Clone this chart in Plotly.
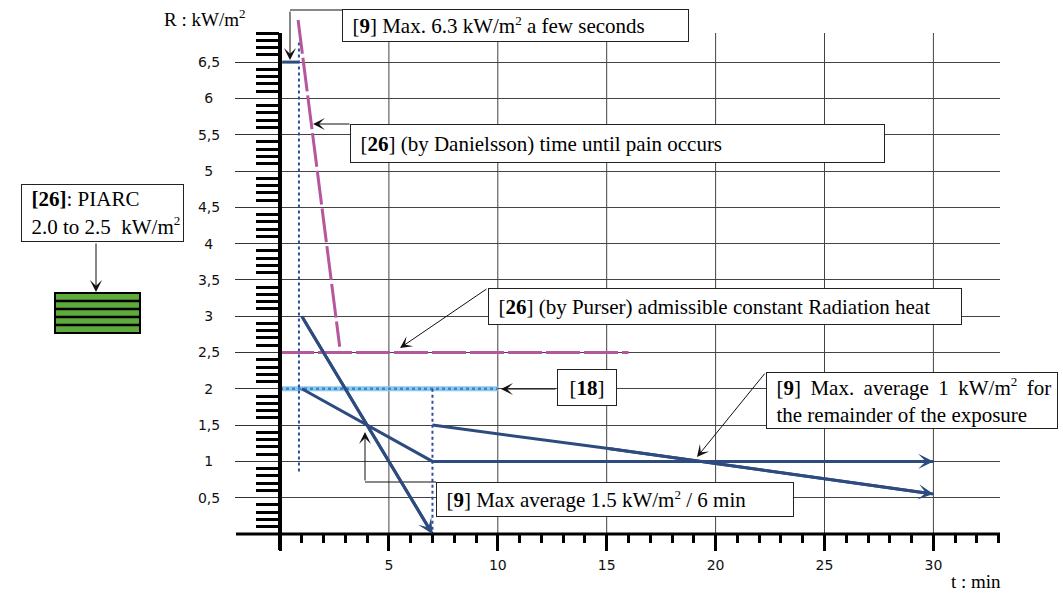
import plotly.graph_objects as go

# ---------------- data ----------------
pain_t = [0.83, 2.74]          # [26] Danielsson, time until pain occurs
pain_R = [7.08, 2.58]
purser_t = [0, 16]             # [26] Purser admissible constant radiation heat
purser_R = [2.5, 2.5]
max63_t = [0.1, 0.85]          # [9] max 6.3 kW/m2 a few seconds
max63_R = [6.5, 6.5]
ref18_t = [0, 10]              # [18]
ref18_R = [2, 2]
lineA_t = [1, 7]               # [9] steep line
lineA_R = [3, 0]
lineB_t = [1, 7, 30]           # [9] 1.5 kW/m2 / 6 min then 1 kW/m2
lineB_R = [2, 1, 1]
lineC_t = [7, 15, 30]          # [9] remainder of exposure
lineC_R = [1.5, 1.18, 0.55]
guide1_t = [0.87, 0.87]        # dotted guide near t = 1 min
guide1_R = [0.86, 6.77]
guide7_t = [7, 7]              # dotted guide at t = 7 min
guide7_R = [2, 0]

y_ticks = [0.5, 1, 1.5, 2, 2.5, 3, 3.5, 4, 4.5, 5, 5.5, 6, 6.5]
y_labels = ["0,5", "1\u2002", "1,5", "2\u2002", "2,5", "3\u2002", "3,5", "4\u2002",
            "4,5", "5\u2002", "5,5", "6\u2002", "6,5"]
x_ticks = [0, 5, 10, 15, 20, 25, 30]
x_labels = ["", "5", "10", "15", "20", "25", "30"]
y_minor = [i / 10 for i in range(1, 70) if i % 5 != 0]
x_minor = [i for i in range(1, 34) if i % 5 != 0]

# ---------------- layout geometry (pixels) ----------------
W, H = 1063, 593
PL, PR, PT, PB = 280, 1000, 12, 534
XMAX = (PR - PL) / 21.78
YMAX = (PB - PT) / 72.6


def fx(px):
    return (px - PL) / (PR - PL)


def fy(py):
    return (PB - py) / (PB - PT)


DARK = "#2D4B7F"
PINK = "#B5579C"
DOT = "#2F4F9A"
SERIF = "Liberation Serif"
SANS = "DejaVu Sans"
SUP2 = "<sup><span style='font-size:13px'>2</span></sup>"

fig = go.Figure()


def line(x, y, color, width, dash=None):
    fig.add_trace(go.Scatter(x=x, y=y, mode="lines",
                             line=dict(color=color, width=width, dash=dash),
                             hoverinfo="skip", showlegend=False))


line(ref18_t, ref18_R, "#8CC8EE", 5)
line(ref18_t, ref18_R, "#3A88C8", 2.5, "dot")
line(guide1_t, guide1_R, DOT, 2, "dot")
line(guide7_t, guide7_R, DOT, 2, "dot")
line(pain_t, pain_R, PINK, 3, "34px,4px")
line(purser_t, purser_R, PINK, 3, "34px,4px")
line(max63_t, max63_R, DARK, 3)
line(lineA_t, lineA_R, DARK, 3)
line(lineB_t, lineB_R, DARK, 3)
line(lineC_t, lineC_R, DARK, 3)

annotations = []
shapes = []

# arrow heads at the ends of the blue lines
for tx, ry in [(lineA_t, lineA_R), (lineB_t, lineB_R), (lineC_t, lineC_R)]:
    annotations.append(dict(x=tx[-1], y=ry[-1], xref="x", yref="y",
                            ax=tx[-2], ay=ry[-2], axref="x", ayref="y",
                            text="", showarrow=True, arrowhead=3, arrowsize=0.85,
                            arrowwidth=3, arrowcolor=DARK, standoff=0))

# vertical grid lines
for xv in x_ticks[1:]:
    shapes.append(dict(type="line", xref="x", yref="y", x0=xv, x1=xv, y0=0,
                       y1=(PB - 33) / 72.6, line=dict(color="#444", width=1),
                       layer="below"))

# axis lines
shapes.append(dict(type="line", xref="paper", yref="paper", x0=0, x1=0,
                   y0=fy(550), y1=fy(33), line=dict(color="black", width=4)))
shapes.append(dict(type="line", xref="paper", yref="paper", x0=fx(236), x1=1,
                   y0=0, y1=0, line=dict(color="black", width=3)))


def seg(x0, y0, x1, y1):
    shapes.append(dict(type="line", xref="paper", yref="paper", x0=fx(x0),
                       x1=fx(x1), y0=fy(y0), y1=fy(y1),
                       line=dict(color="#111", width=1)))


def arrow(tipx, tipy, tailx, taily):
    annotations.append(dict(x=fx(tipx), y=fy(tipy), xref="paper", yref="paper",
                            ax=tailx - tipx, ay=taily - tipy, text="",
                            showarrow=True, arrowhead=3, arrowsize=2.0,
                            arrowwidth=1, arrowcolor="#111", standoff=0))


def box(x0, y0, x1, y1, text, align="left"):
    annotations.append(dict(x=fx(x0), y=fy(y0), xref="paper", yref="paper",
                            xanchor="left", yanchor="top", width=x1 - x0 - 2,
                            height=y1 - y0 - 2, text=text, showarrow=False,
                            align=align, valign="middle", bgcolor="white",
                            bordercolor="#222", borderwidth=1, borderpad=0,
                            font=dict(family=SERIF, size=21, color="black")))


P = "\u00a0\u2009"
SP = " \u2009"

# connectors
seg(290, 10, 342, 10)
arrow(290, 60, 290, 10)
arrow(313, 124, 351, 124)
arrow(400, 348, 488, 288)
arrow(501, 389, 557, 389)
arrow(697, 457, 766, 372)
seg(365, 482, 436, 482)
arrow(365, 432, 365, 482)
arrow(96, 292, 96, 242)

# boxes
box(342, 9, 689, 42, P + "[<b>9</b>] Max. 6.3 kW/m" + SUP2 + " a few seconds")
box(350, 124, 885, 163, P + "[<b>26</b>] (by Danielsson) time until pain occurs")
box(488, 288, 962, 325, P + "[<b>26</b>] (by Purser) admissible constant Radiation heat")
box(557, 369, 617, 406, "[<b>18</b>]", align="center")
box(766, 372, 1058, 429,
    P + "[<b>9</b>]" + SP + "Max." + SP + "average" + SP + "1" + SP + "kW/m" + SUP2
    + SP + "for<br>" + P + "the remainder of the exposure")
box(436, 482, 794, 517, P + "[<b>9</b>] Max average 1.5 kW/m" + SUP2 + " / 6 min")
box(21, 184, 184, 242, P + "<b>[26]</b>: PIARC<br>" + P + "2.0 to 2.5  kW/m" + SUP2)

# PIARC hatched legend swatch
shapes.append(dict(type="rect", xref="paper", yref="paper", x0=fx(55), x1=fx(140),
                   y0=fy(333), y1=fy(293), fillcolor="#5FAA3C",
                   line=dict(color="black", width=2)))
for yy in [301, 309, 317, 325]:
    shapes.append(dict(type="line", xref="paper", yref="paper", x0=fx(55), x1=fx(140),
                       y0=fy(yy), y1=fy(yy), line=dict(color="black", width=2.5)))

# axis titles
annotations.append(dict(x=fx(247), y=fy(18), xref="paper", yref="paper",
                        xanchor="right", yanchor="middle", showarrow=False,
                        text="R : kW/m" + SUP2,
                        font=dict(family=SERIF, size=19, color="black")))
annotations.append(dict(x=fx(976), y=fy(581), xref="paper", yref="paper",
                        xanchor="center", yanchor="middle", showarrow=False,
                        text="t : min",
                        font=dict(family=SERIF, size=19, color="black")))

fig.update_layout(
    width=W, height=H,
    margin=dict(l=PL, r=W - PR, t=PT, b=H - PB, pad=0),
    paper_bgcolor="white", plot_bgcolor="white",
    showlegend=False,
    annotations=annotations, shapes=shapes,
    xaxis=dict(range=[0, XMAX], tickmode="array", tickvals=x_ticks, ticktext=x_labels,
               ticks="outside", ticklen=16, tickwidth=3, tickcolor="black",
               showgrid=False, zeroline=False, showline=False,
               tickfont=dict(family=SANS, size=14, color="#111"),
               ticklabelstandoff=2,
               minor=dict(tickmode="array", tickvals=x_minor, ticks="outside",
                          ticklen=8, tickwidth=3, tickcolor="black", showgrid=False)),
    yaxis=dict(range=[0, YMAX], tickmode="array", tickvals=y_ticks, ticktext=y_labels,
               ticks="outside", ticklen=44, tickwidth=1, tickcolor="#333",
               showgrid=True, gridcolor="#444", gridwidth=1,
               zeroline=False, showline=False,
               tickfont=dict(family=SANS, size=14, color="#111"),
               ticklabelstandoff=12,
               minor=dict(tickmode="array", tickvals=y_minor, ticks="outside",
                          ticklen=23, tickwidth=2.5, tickcolor="black", showgrid=False)),
)

fig.write_html("out.html", config={"displayModeBar": False},
               post_script="document.body.style.margin='0';document.body.style.padding='0';")
